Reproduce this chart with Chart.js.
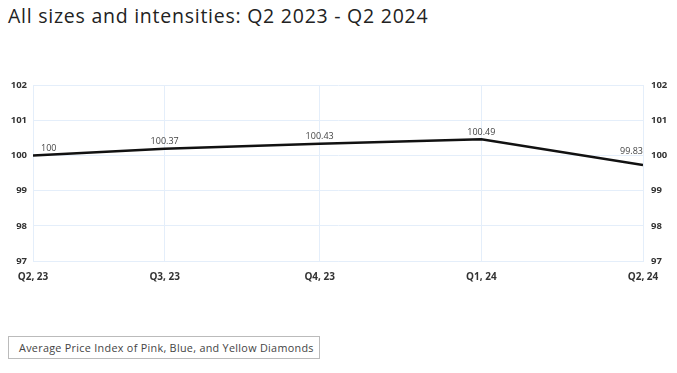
<!DOCTYPE html>
<html>
<head>
<meta charset="utf-8">
<script src="https://cdn.jsdelivr.net/npm/chart.js@4"></script>
<style>
  html, body { margin: 0; padding: 0; background: #fff; }
  body { width: 677px; height: 373px; position: relative; overflow: hidden; font-family: "Open Sans", sans-serif; }
  #title { position: absolute; left: 8px; top: 2px; font-size: 19.5px; letter-spacing: 0.75px; color: #222; white-space: nowrap; }
  #wrap { position: absolute; left: 0; top: 60px; width: 677px; height: 230px; }
  #legend { position: absolute; left: 8px; top: 336px; width: 310px; height: 21px; border: 1px solid #bbb;
            font-size: 10.8px; letter-spacing: 0.3px; color: #444; line-height: 21px; }
  #legend span { margin-left: 10px; }
</style>
</head>
<body>
<div id="title">All sizes and intensities: Q2 2023 - Q2 2024</div>
<div id="wrap"><canvas id="myChart"></canvas></div>
<div id="legend"><span>Average Price Index of Pink, Blue, and Yellow Diamonds</span></div>
<script>
const quarterLabels = ['Q2, 23', 'Q3, 23', 'Q4, 23', 'Q1, 24', 'Q2, 24'];
const dayOffsets = [0, 79, 172, 269, 366];
// line positions as drawn
const priceIndex = [100, 100.19, 100.33, 100.46, 99.73];
// value labels as printed on the chart
const valueLabels = ['100', '100.37', '100.43', '100.49', '99.83'];
const yTicks = [97, 98, 99, 100, 101, 102];

const gridColor = '#e4eefa';
const tickFont = { family: '"Open Sans", sans-serif', size: 9.5, weight: '700' };

const valueLabelPlugin = {
    id: 'valueLabels',
    afterDatasetsDraw(chart) {
        const ctx = chart.ctx;
        const area = chart.chartArea;
        const meta = chart.getDatasetMeta(0);
        ctx.save();
        ctx.font = '9px "Open Sans", sans-serif';
        ctx.fillStyle = '#444';
        ctx.textAlign = 'center';
        ctx.textBaseline = 'middle';
        meta.data.forEach((pt, i) => {
            const text = valueLabels[i];
            const w = ctx.measureText(text).width;
            let x = pt.x;
            x = Math.max(x, area.left + w / 2 + 8);
            x = Math.min(x, area.right - w / 2);
            const y = i === meta.data.length - 1 ? pt.y - 13 : pt.y - 7;
            ctx.fillText(text, x, y);
        });
        ctx.restore();
    }
};

const ctx = document.getElementById('myChart').getContext('2d');
const myChart = new Chart(ctx, {
    type: 'line',
    data: {
        datasets: [{
            label: 'Average Price Index of Pink, Blue, and Yellow Diamonds',
            data: dayOffsets.map((d, i) => ({ x: d, y: priceIndex[i] })),
            borderColor: '#111',
            borderWidth: 2.5,
            pointRadius: 0,
            tension: 0,
            yAxisID: 'y'
        }]
    },
    options: {
        responsive: true,
        maintainAspectRatio: false,
        animation: false,
        layout: { padding: { top: 25, left: 0, right: 0, bottom: 0 } },
        plugins: {
            legend: { display: false },
            tooltip: { enabled: false }
        },
        scales: {
            x: {
                type: 'linear',
                min: dayOffsets[0],
                max: dayOffsets[dayOffsets.length - 1],
                afterBuildTicks(scale) {
                    scale.ticks = dayOffsets.map(v => ({ value: v }));
                },
                afterFit(scale) { scale.height = 29; },
                ticks: {
                    autoSkip: false,
                    maxRotation: 0,
                    padding: 10,
                    color: '#333',
                    font: { family: '"Open Sans", sans-serif', size: 10, weight: '700' },
                    callback: (v) => quarterLabels[dayOffsets.indexOf(v)]
                },
                grid: { color: gridColor, drawTicks: false },
                border: { color: gridColor }
            },
            y: {
                position: 'left',
                min: 97,
                max: 102,
                afterBuildTicks(scale) {
                    scale.ticks = yTicks.map(v => ({ value: v }));
                },
                afterFit(scale) { scale.width = 33; },
                ticks: { padding: 6, color: '#333', font: tickFont },
                grid: { color: gridColor, drawTicks: false },
                border: { color: gridColor }
            },
            y2: {
                position: 'right',
                min: 97,
                max: 102,
                afterBuildTicks(scale) {
                    scale.ticks = yTicks.map(v => ({ value: v }));
                },
                afterFit(scale) { scale.width = 34; },
                ticks: { padding: 8, color: '#333', font: tickFont },
                grid: { display: false, drawTicks: false },
                border: { color: gridColor }
            }
        }
    },
    plugins: [valueLabelPlugin]
});
</script>
</body>
</html>
